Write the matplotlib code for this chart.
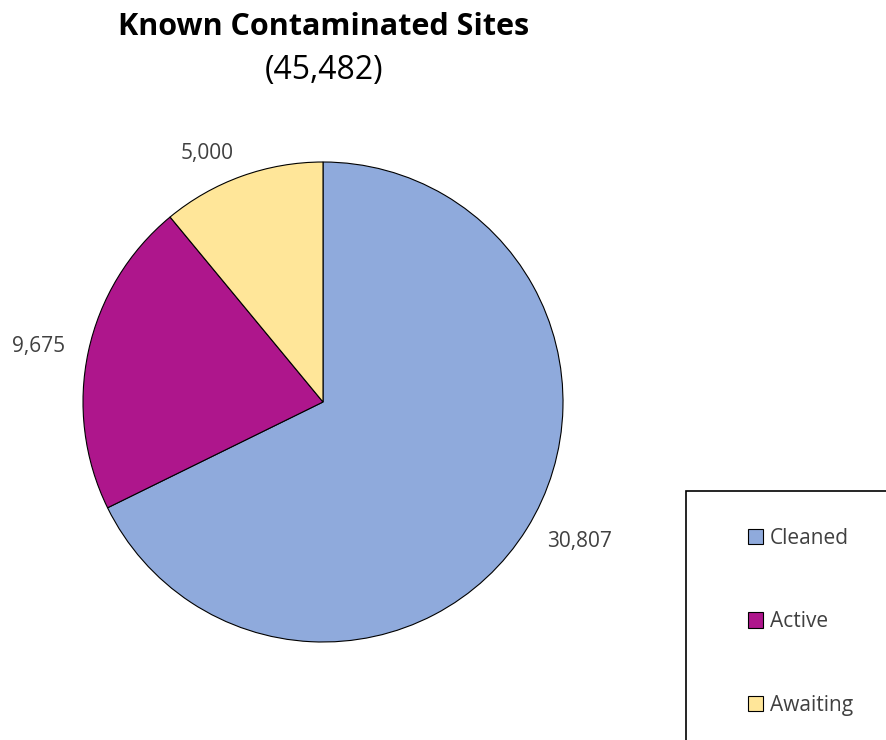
import matplotlib.pyplot as plt
from matplotlib.patches import Rectangle

plt.rcParams['font.family'] = ['Open Sans', 'DejaVu Sans']

categories = ["Cleaned", "Active", "Awaiting"]
values = [30807, 9675, 5000]
colors = ["#8FAADC", "#AE168C", "#FFE699"]
total = sum(values)

W, H = 887, 740
fig = plt.figure(figsize=(W / 100, H / 100), dpi=100)

# pie area in pixel coords: centre (323, 402), radius 240
ax = fig.add_axes([83 / W, 98 / H, 480 / W, 480 / H])
wedges, texts = ax.pie(values, colors=colors, startangle=90, counterclock=False,
                       labels=[f"{v:,}" for v in values], labeldistance=1.1,
                       wedgeprops=dict(edgecolor="black", linewidth=0.8),
                       textprops=dict(color="#404040", fontsize=15))
ax.set_xlim(-1, 1)
ax.set_ylim(-1, 1)
ax.set_aspect("equal")

fig.text(324 / W, 1 - 27 / H, "Known Contaminated Sites", ha="center", va="center",
         fontsize=22, fontweight="bold", color="black")
fig.text(324 / W, 1 - 70 / H, f"({total:,})", ha="center", va="center",
         fontsize=23, color="black")

# legend box, runs off the figure edge
fig.patches.append(Rectangle((686 / W, -0.05), 0.5, 1 - 491 / H + 0.05,
                             transform=fig.transFigure, facecolor="white",
                             edgecolor="black", linewidth=1.2, zorder=0))
leg = fig.legend(wedges, categories, loc="upper left",
                 bbox_to_anchor=(729 / W, 1 - 509 / H), frameon=False,
                 handlelength=0.75, handleheight=0.75, handletextpad=0.3,
                 labelspacing=3.0, fontsize=15, labelcolor="#404040")

fig.savefig("out.png", dpi=100)
